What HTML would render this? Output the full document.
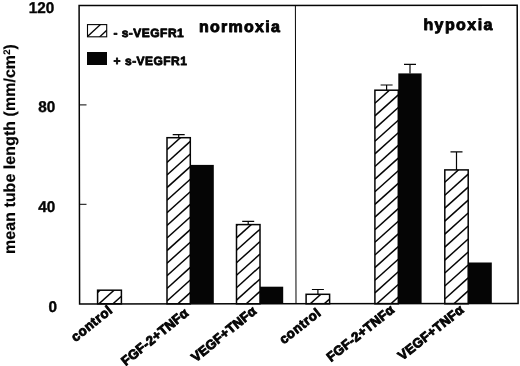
<!DOCTYPE html>
<html><head><meta charset="utf-8"><title>chart</title>
<style>html,body{margin:0;padding:0;background:#fff}svg{display:block}</style></head>
<body>
<svg width="520" height="366" viewBox="0 0 520 366">
<rect width="520" height="366" fill="#fff"/>
<defs>
<clipPath id="c0"><rect x="97.6" y="290.2" width="23.80" height="13.60"/></clipPath>
<clipPath id="c1"><rect x="167.0" y="137.7" width="23.30" height="166.10"/></clipPath>
<clipPath id="c2"><rect x="236.5" y="224.6" width="23.50" height="79.20"/></clipPath>
<clipPath id="c3"><rect x="306.1" y="294.3" width="23.50" height="9.50"/></clipPath>
<clipPath id="c4"><rect x="374.9" y="90.2" width="23.40" height="213.60"/></clipPath>
<clipPath id="c5"><rect x="444.8" y="169.9" width="23.40" height="133.90"/></clipPath>
<clipPath id="cl"><rect x="87.2" y="24.2" width="19.6" height="12.6"/></clipPath>
</defs>
<g fill="none" stroke="#050505" stroke-width="1.5">
<polygon points="79.1,5.5 517.2,5.2 518.1,303.5 79.6,303.9"/>
</g>
<g stroke="#050505" stroke-width="1">
<line x1="295.4" y1="5.3" x2="296.0" y2="303.7"/>
<line x1="79.3" y1="204.3" x2="86.5" y2="204.3"/>
<line x1="79.3" y1="104.9" x2="86.5" y2="104.9"/>
</g>
<g clip-path="url(#c0)" stroke="#050505" stroke-width="1.5">
<line x1="97.6" y1="330.2" x2="121.4" y2="308.8"/>
<line x1="97.6" y1="317.6" x2="121.4" y2="296.2"/>
<line x1="97.6" y1="305.0" x2="121.4" y2="283.6"/>
<line x1="97.6" y1="292.4" x2="121.4" y2="271.0"/>
</g>
<rect x="97.6" y="290.2" width="23.80" height="13.60" fill="none" stroke="#050505" stroke-width="1.5"/>
<g clip-path="url(#c1)" stroke="#050505" stroke-width="1.5">
<line x1="167.0" y1="326.2" x2="190.3" y2="305.2"/>
<line x1="167.0" y1="313.6" x2="190.3" y2="292.6"/>
<line x1="167.0" y1="301.0" x2="190.3" y2="280.0"/>
<line x1="167.0" y1="288.4" x2="190.3" y2="267.4"/>
<line x1="167.0" y1="275.8" x2="190.3" y2="254.8"/>
<line x1="167.0" y1="263.2" x2="190.3" y2="242.2"/>
<line x1="167.0" y1="250.6" x2="190.3" y2="229.6"/>
<line x1="167.0" y1="238.0" x2="190.3" y2="217.0"/>
<line x1="167.0" y1="225.4" x2="190.3" y2="204.4"/>
<line x1="167.0" y1="212.8" x2="190.3" y2="191.8"/>
<line x1="167.0" y1="200.2" x2="190.3" y2="179.2"/>
<line x1="167.0" y1="187.6" x2="190.3" y2="166.6"/>
<line x1="167.0" y1="175.0" x2="190.3" y2="154.0"/>
<line x1="167.0" y1="162.4" x2="190.3" y2="141.4"/>
<line x1="167.0" y1="149.8" x2="190.3" y2="128.8"/>
<line x1="167.0" y1="137.2" x2="190.3" y2="116.2"/>
</g>
<rect x="167.0" y="137.7" width="23.30" height="166.10" fill="none" stroke="#050505" stroke-width="1.5"/>
<path d="M178.7 137.7 V134.6 M172.7 134.6 H184.7" stroke="#050505" stroke-width="1.2" fill="none"/>
<g clip-path="url(#c2)" stroke="#050505" stroke-width="1.5">
<line x1="236.5" y1="325.0" x2="260.0" y2="303.9"/>
<line x1="236.5" y1="312.6" x2="260.0" y2="291.4"/>
<line x1="236.5" y1="300.1" x2="260.0" y2="279.0"/>
<line x1="236.5" y1="287.7" x2="260.0" y2="266.5"/>
<line x1="236.5" y1="275.2" x2="260.0" y2="254.1"/>
<line x1="236.5" y1="262.8" x2="260.0" y2="241.6"/>
<line x1="236.5" y1="250.3" x2="260.0" y2="229.2"/>
<line x1="236.5" y1="237.9" x2="260.0" y2="216.7"/>
<line x1="236.5" y1="225.4" x2="260.0" y2="204.3"/>
</g>
<rect x="236.5" y="224.6" width="23.50" height="79.20" fill="none" stroke="#050505" stroke-width="1.5"/>
<path d="M248.2 224.6 V221.3 M242.2 221.3 H254.2" stroke="#050505" stroke-width="1.2" fill="none"/>
<g clip-path="url(#c3)" stroke="#050505" stroke-width="1.5">
<line x1="306.1" y1="332.7" x2="329.6" y2="311.6"/>
<line x1="306.1" y1="320.1" x2="329.6" y2="299.0"/>
<line x1="306.1" y1="307.5" x2="329.6" y2="286.4"/>
<line x1="306.1" y1="294.9" x2="329.6" y2="273.8"/>
</g>
<rect x="306.1" y="294.3" width="23.50" height="9.50" fill="none" stroke="#050505" stroke-width="1.5"/>
<path d="M317.9 294.3 V289.5 M311.9 289.5 H323.9" stroke="#050505" stroke-width="1.2" fill="none"/>
<g clip-path="url(#c4)" stroke="#050505" stroke-width="1.5">
<line x1="374.9" y1="330.8" x2="398.3" y2="309.8"/>
<line x1="374.9" y1="318.2" x2="398.3" y2="297.1"/>
<line x1="374.9" y1="305.5" x2="398.3" y2="284.5"/>
<line x1="374.9" y1="292.9" x2="398.3" y2="271.8"/>
<line x1="374.9" y1="280.3" x2="398.3" y2="259.2"/>
<line x1="374.9" y1="267.6" x2="398.3" y2="246.6"/>
<line x1="374.9" y1="255.0" x2="398.3" y2="233.9"/>
<line x1="374.9" y1="242.3" x2="398.3" y2="221.3"/>
<line x1="374.9" y1="229.7" x2="398.3" y2="208.6"/>
<line x1="374.9" y1="217.1" x2="398.3" y2="196.0"/>
<line x1="374.9" y1="204.4" x2="398.3" y2="183.4"/>
<line x1="374.9" y1="191.8" x2="398.3" y2="170.7"/>
<line x1="374.9" y1="179.1" x2="398.3" y2="158.1"/>
<line x1="374.9" y1="166.5" x2="398.3" y2="145.4"/>
<line x1="374.9" y1="153.9" x2="398.3" y2="132.8"/>
<line x1="374.9" y1="141.2" x2="398.3" y2="120.2"/>
<line x1="374.9" y1="128.6" x2="398.3" y2="107.5"/>
<line x1="374.9" y1="115.9" x2="398.3" y2="94.9"/>
<line x1="374.9" y1="103.3" x2="398.3" y2="82.2"/>
<line x1="374.9" y1="90.7" x2="398.3" y2="69.6"/>
</g>
<rect x="374.9" y="90.2" width="23.40" height="213.60" fill="none" stroke="#050505" stroke-width="1.5"/>
<path d="M386.6 90.2 V85.0 M380.6 85.0 H392.6" stroke="#050505" stroke-width="1.2" fill="none"/>
<g clip-path="url(#c5)" stroke="#050505" stroke-width="1.5">
<line x1="444.8" y1="325.0" x2="468.2" y2="303.9"/>
<line x1="444.8" y1="312.0" x2="468.2" y2="290.9"/>
<line x1="444.8" y1="299.0" x2="468.2" y2="277.9"/>
<line x1="444.8" y1="286.0" x2="468.2" y2="265.0"/>
<line x1="444.8" y1="273.0" x2="468.2" y2="252.0"/>
<line x1="444.8" y1="260.1" x2="468.2" y2="239.0"/>
<line x1="444.8" y1="247.1" x2="468.2" y2="226.0"/>
<line x1="444.8" y1="234.1" x2="468.2" y2="213.0"/>
<line x1="444.8" y1="221.1" x2="468.2" y2="200.1"/>
<line x1="444.8" y1="208.1" x2="468.2" y2="187.1"/>
<line x1="444.8" y1="195.2" x2="468.2" y2="174.1"/>
<line x1="444.8" y1="182.2" x2="468.2" y2="161.1"/>
<line x1="444.8" y1="169.2" x2="468.2" y2="148.1"/>
</g>
<rect x="444.8" y="169.9" width="23.40" height="133.90" fill="none" stroke="#050505" stroke-width="1.5"/>
<path d="M456.5 169.9 V151.8 M450.5 151.8 H462.5" stroke="#050505" stroke-width="1.2" fill="none"/>
<rect x="190.3" y="164.9" width="23.50" height="138.90" fill="#050505"/>
<rect x="260.0" y="286.7" width="23.20" height="17.10" fill="#050505"/>
<rect x="398.3" y="73.4" width="23.30" height="230.40" fill="#050505"/>
<path d="M410.0 73.4 V64.4 M404.0 64.4 H416.0" stroke="#050505" stroke-width="1.2" fill="none"/>
<rect x="468.3" y="262.5" width="23.50" height="41.30" fill="#050505"/>
<g clip-path="url(#cl)" stroke="#050505" stroke-width="1.3"><line x1="87" y1="37" x2="101" y2="24"/><line x1="99" y1="37.5" x2="107" y2="30"/></g>
<rect x="87.5" y="24.6" width="19.2" height="12.2" fill="none" stroke="#050505" stroke-width="1.1"/>
<rect x="87" y="52" width="20" height="13" fill="#050505"/>
<g font-family="Liberation Sans, Arial, Helvetica, sans-serif" font-weight="bold" fill="#050505" stroke="#050505" stroke-width="0.45" stroke-linejoin="round" text-rendering="geometricPrecision">
<text x="113.4" y="36.8" font-size="12" textLength="70.3" lengthAdjust="spacing" stroke-width="0.8">- s-VEGFR1</text>
<text x="113.4" y="64.6" font-size="12" stroke-width="0.8">+</text>
<text x="125.0" y="64.6" font-size="12" textLength="61.9" lengthAdjust="spacing" stroke-width="0.8">s-VEGFR1</text>
<text x="198.9" y="32.3" font-size="16" textLength="81" lengthAdjust="spacing" stroke-width="0.9">normoxia</text>
<text x="423.4" y="30.2" font-size="16" textLength="69" lengthAdjust="spacing" stroke-width="0.9">hypoxia</text>
<text transform="translate(54.3,12.7) scale(0.98,1)" font-size="15.6" text-anchor="end" stroke-width="0.4">120</text>
<text transform="translate(55.2,112.2) scale(0.98,1)" font-size="15.6" text-anchor="end" stroke-width="0.4">80</text>
<text transform="translate(55.2,211.9) scale(0.98,1)" font-size="15.6" text-anchor="end" stroke-width="0.4">40</text>
<text transform="translate(57.0,311.7) scale(0.98,1)" font-size="15.6" text-anchor="end" stroke-width="0.4">0</text>
<text transform="translate(15.3,254) rotate(-90)" font-size="16" textLength="209.8" lengthAdjust="spacing" stroke-width="0.15">mean tube length (mm/cm<tspan font-size="9.5" dy="-5.8">2</tspan><tspan dy="5.8">)</tspan></text>
<text transform="translate(113.5,311.5) rotate(-39)" font-size="13.2" text-anchor="end" stroke-width="0.9" letter-spacing="0.6">control</text>
<text transform="translate(189.5,314.5) rotate(-39)" font-size="13.2" text-anchor="end" stroke-width="0.9" letter-spacing="0.25">FGF-2+TNFα</text>
<text transform="translate(257.5,312.5) rotate(-39)" font-size="13.2" text-anchor="end" stroke-width="0.9" letter-spacing="0.25">VEGF+TNFα</text>
<text transform="translate(322,314.3) rotate(-38.3)" font-size="13.2" text-anchor="end" stroke-width="0.9" letter-spacing="0.6">control</text>
<text transform="translate(395.3,311.4) rotate(-38.3)" font-size="13.2" text-anchor="end" stroke-width="0.9" letter-spacing="0.25">FGF-2+TNFα</text>
<text transform="translate(464.8,311.4) rotate(-38.3)" font-size="13.2" text-anchor="end" stroke-width="0.9" letter-spacing="0.25">VEGF+TNFα</text>
</g>
</svg>
</body></html>
